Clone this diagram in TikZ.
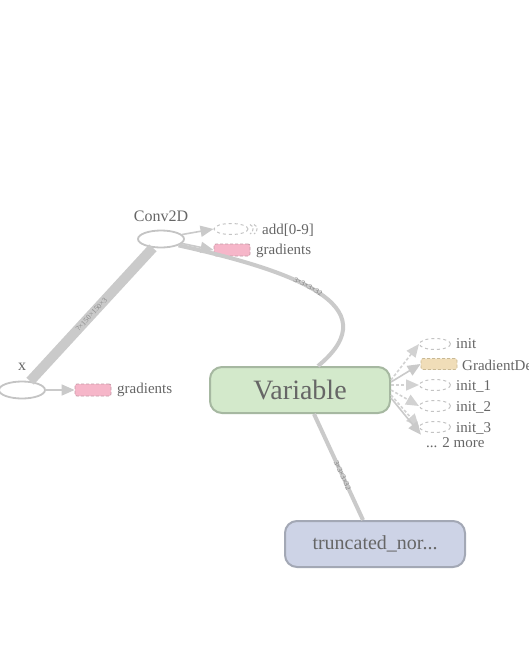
\documentclass[tikz,border=0pt]{standalone}
\usepackage{fontspec}
\setmainfont{Liberation Serif}
\usetikzlibrary{arrows.meta,shapes.geometric}
\definecolor{edgegray}{HTML}{CACACA}
\definecolor{lightedge}{HTML}{D2D2D2}
\definecolor{txtgray}{HTML}{666666}
\definecolor{ellgray}{HTML}{C4C4C4}
\definecolor{pinkfill}{HTML}{F6B6C9}
\definecolor{pinkdraw}{HTML}{C49AA6}
\definecolor{beigefill}{HTML}{F0DDB8}
\definecolor{beigedraw}{HTML}{C9B994}
\definecolor{greenfill}{HTML}{D3E9CB}
\definecolor{greendraw}{HTML}{A6B8A1}
\definecolor{bluefill}{HTML}{CDD3E6}
\definecolor{bluedraw}{HTML}{A3A8B5}
\tikzset{
  opnode/.style={ellipse, draw=ellgray, line width=1.8pt, fill=white, minimum width=46pt, minimum height=17pt, inner sep=0pt},
  smallell/.style={ellipse, draw=ellgray, dashed, line width=1pt, fill=white, minimum width=31pt, minimum height=11pt, inner sep=0pt},
  pinkbox/.style={rectangle, rounded corners=2pt, draw=pinkdraw, densely dashed, line width=0.8pt, fill=pinkfill, minimum width=36pt, minimum height=12pt, inner sep=0pt},
  beigebox/.style={rectangle, rounded corners=2pt, draw=beigedraw, densely dashed, line width=0.8pt, fill=beigefill, minimum width=36pt, minimum height=11pt, inner sep=0pt},
  lbl/.style={text=txtgray, font=\fontsize{15}{18}\selectfont, inner sep=0pt, anchor=west},
  toplbl/.style={text=txtgray, font=\fontsize{16}{19}\selectfont, inner sep=0pt},
  bigbox/.style={rectangle, rounded corners=12pt, line width=2pt, minimum width=180pt, minimum height=46pt, inner sep=0pt, text=txtgray},
  edgelbl/.style={text=txtgray!85, font=\fontsize{7.5}{8}\selectfont, inner sep=0pt, sloped},
  stackarc/.style={draw=ellgray, densely dashed, line width=1pt},
  arr/.style={draw=edgegray, line width=1.6pt, -{Triangle[length=13pt,width=11pt]}},
  darr/.style={draw=lightedge, line width=1.6pt, densely dashed, -{Triangle[length=13pt,width=11pt,fill=lightedge]}}
}
\begin{document}
\begin{tikzpicture}[x=1pt,y=-1pt]
\useasboundingbox[fill=white] (0,0) rectangle (528,664);

% nodes
\node[opnode] (conv) at (161,239) {};
\node[toplbl] (convl) at (161,216) {Conv2D};
\node[opnode] (xn) at (22,390) {};
\node[toplbl] (xl) at (22,367) {x};

\draw[stackarc] (250,224.5) .. controls (254,226) and (254,232) .. (250,234);
\draw[stackarc] (254,224.5) .. controls (258,226) and (258,232) .. (254,234);
\node[smallell, minimum width=34pt] (add) at (231,229) {};
\node[lbl] (addl) at (262,230) {add[0-9]};
\node[pinkbox] (cg) at (232,250) {};
\node[lbl] (cgl) at (256,251) {gradients};
\node[pinkbox] (xg) at (93,390) {};
\node[lbl] (xgl) at (117,390) {gradients};

\node[bigbox, draw=greendraw, fill=greenfill, font=\fontsize{28}{32}\selectfont] (var) at (300,390) {Variable};
\node[bigbox, draw=bluedraw, fill=bluefill, font=\fontsize{20}{24}\selectfont] (tn) at (375,544) {truncated\_nor...};

\node[smallell] (init) at (435,344) {};
\node[lbl] (initl) at (456,344) {init};
\node[beigebox] (gd) at (439,364) {};
\node[lbl] (gdl) at (462,365) {GradientDe};
\node[smallell] (init1) at (435,385) {};
\node[lbl] (init1l) at (456,386) {init\_1};
\node[smallell] (init2) at (435,406) {};
\node[lbl] (init2l) at (456,407) {init\_2};
\node[smallell] (init3) at (435,427) {};
\node[lbl] (init3l) at (456,428) {init\_3};
\node[lbl] (more) at (426,443) {... 2 more};

% thick edge x -> Conv2D
\draw[edgegray, line width=10pt] (xn) -- node[edgelbl, text=txtgray!75] {?×150×150×3} (conv);

% Conv2D -> add, gradients
\draw[arr] (conv.12) -- (add.west);
\draw[arr] (conv.-12) -- (cg.west);
\draw[arr] (xn.east) -- (xg.west);

% Conv2D -> Variable curve
\draw[edgegray, line width=4pt] (conv.-20) .. controls (290,270) and (392,305) .. node[pos=0.45, edgelbl] {3×3×3×32} ([xshift=18pt]var.north);

% truncated -> Variable
\draw[edgegray, line width=4pt] ([xshift=-12pt]tn.north) -- node[pos=0.42, edgelbl] {3×3×3×32} ([xshift=14pt]var.south);

% fan out of Variable
\draw[darr] ([yshift=10pt]var.east) -- (init.west);
\draw[arr] ([yshift=8pt]var.east) -- (gd.west);
\draw[darr] ([yshift=5pt]var.east) -- (init1.west);
\draw[darr] ([yshift=0pt]var.east) -- (init2.west);
\draw[darr] ([yshift=-5pt]var.east) -- (init3.west);
\draw[arr] ([yshift=-8pt]var.east) -- ([xshift=-5pt,yshift=3pt]more.north west);
\end{tikzpicture}
\end{document}
